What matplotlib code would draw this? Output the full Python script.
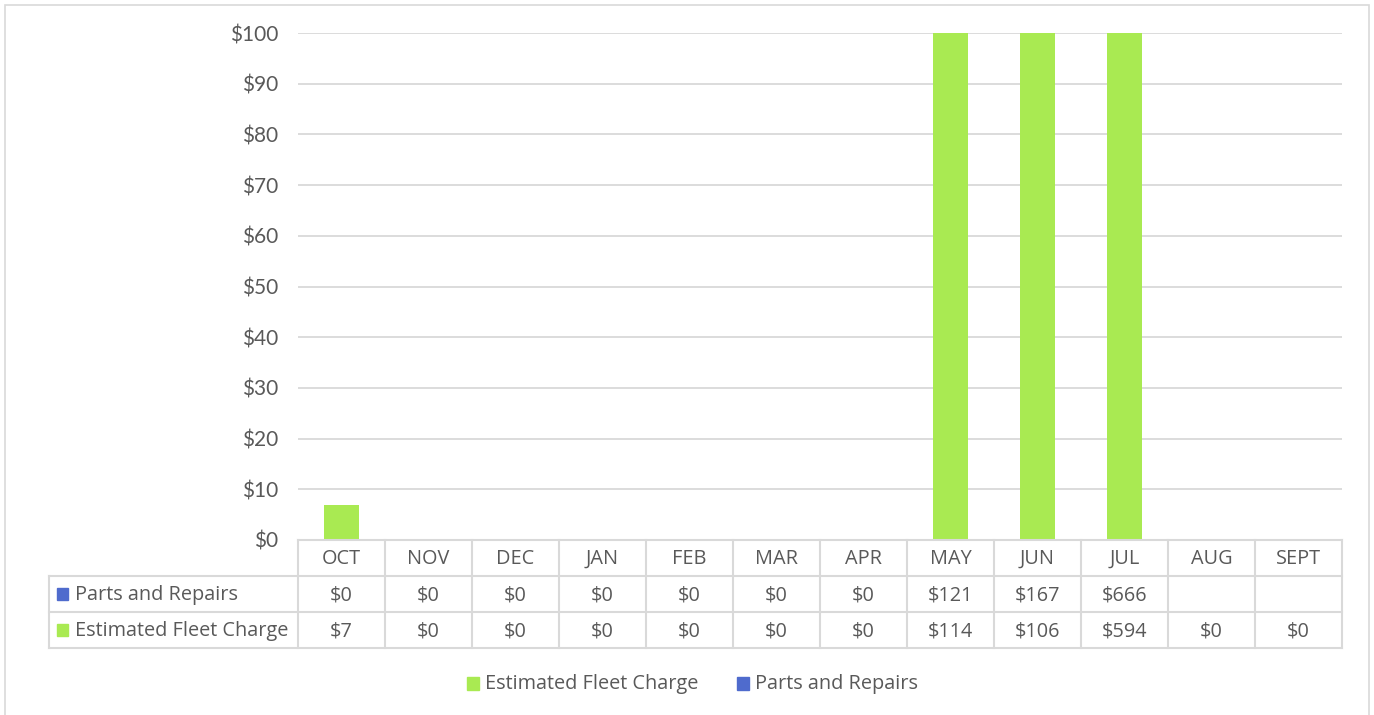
import numpy as np
import matplotlib
matplotlib.use("Agg")
import matplotlib.pyplot as plt
from matplotlib.patches import Rectangle
from matplotlib.lines import Line2D
import matplotlib.transforms as mtrans

months = ["OCT", "NOV", "DEC", "JAN", "FEB", "MAR", "APR", "MAY", "JUN", "JUL", "AUG", "SEPT"]
fleet_charge = [7, 0, 0, 0, 0, 0, 0, 114, 106, 594, 0, 0]
parts_repairs = [0, 0, 0, 0, 0, 0, 0, 121, 167, 666, np.nan, np.nan]
y_ticks = [0, 10, 20, 30, 40, 50, 60, 70, 80, 90, 100]

GREEN = "#A9EA52"
BLUE = "#4F6BCD"
GRID = "#D9D9D9"
TXT = "#595959"

W, H = 1374, 715
fig = plt.figure(figsize=(W / 100, H / 100), dpi=100)

def fx(px):
    return px / W

def fy(py):
    return 1 - py / H

# outer border
fig.add_artist(Rectangle((fx(5), fy(730)), fx(1369) - fx(5), fy(5) - fy(730),
                         transform=fig.transFigure, fill=False, edgecolor=GRID, lw=1.2))

ax = fig.add_axes([fx(298), fy(540), fx(1342) - fx(298), fy(33) - fy(540)])
x = np.arange(len(months))
bw = 0.40
ax.bar(x, fleet_charge, width=bw, color=GREEN, zorder=3, label="Estimated Fleet Charge")
ax.bar(x, np.nan_to_num(parts_repairs), bottom=fleet_charge, width=bw, color=BLUE, zorder=3,
       label="Parts and Repairs")
ax.set_xlim(-0.5, len(months) - 0.5)
ax.set_ylim(0, 100)
ax.set_yticks(y_ticks)
ax.set_yticklabels([f"${v}" for v in y_ticks], fontfamily="Lato", fontsize=15, color=TXT)
ax.tick_params(axis="y", length=0, pad=14)
ax.set_xticks([])
for s in ax.spines.values():
    s.set_visible(False)
ax.yaxis.grid(True, color=GRID, lw=1.3, zorder=0)
ax.set_axisbelow(True)

# data table
row_h = 36  # px
trans = mtrans.blended_transform_factory(ax.transData, fig.transFigure)
left_px = 49
x0_px, x1_px = 298, 1342
top_px = 540
tfont = dict(fontfamily="Open Sans", fontsize=14.3, color=TXT)

lw = 1.5
# horizontal lines
fig.add_artist(Line2D([fx(x0_px), fx(x1_px)], [fy(top_px), fy(top_px)], color=GRID, lw=lw,
                      transform=fig.transFigure))
for r in range(1, 4):
    yy = fy(top_px + r * row_h)
    fig.add_artist(Line2D([fx(left_px), fx(x1_px)], [yy, yy], color=GRID, lw=lw,
                          transform=fig.transFigure))
# vertical lines
for i in range(len(months) + 1):
    xi = i - 0.5
    fig.add_artist(Line2D([xi, xi], [fy(top_px), fy(top_px + 3 * row_h)], color=GRID, lw=lw,
                          transform=trans))
fig.add_artist(Line2D([fx(left_px), fx(left_px)], [fy(top_px + row_h), fy(top_px + 3 * row_h)],
                      color=GRID, lw=lw, transform=fig.transFigure))

def fmt(v):
    return "" if np.isnan(v) else f"${int(v)}"

for i, m in enumerate(months):
    fig.text(i, fy(top_px + 0.5 * row_h + 1), m, ha="center", va="center", transform=trans, **tfont)
    fig.text(i, fy(top_px + 1.5 * row_h + 1), fmt(parts_repairs[i]), ha="center", va="center",
             transform=trans, **tfont)
    fig.text(i, fy(top_px + 2.5 * row_h + 1), fmt(float(fleet_charge[i])), ha="center", va="center",
             transform=trans, **tfont)

rows = [("Parts and Repairs", BLUE), ("Estimated Fleet Charge", GREEN)]
sq = 12
for r, (name, col) in enumerate(rows):
    cy = top_px + (1.5 + r) * row_h
    fig.add_artist(Rectangle((fx(57), fy(cy + sq / 2)), fx(sq - 1), sq / H, color=col,
                             transform=fig.transFigure))
    fig.text(fx(75), fy(cy + 1), name, ha="left", va="center", **tfont)

# bottom legend
leg_y = 683
legend_items = [("Estimated Fleet Charge", GREEN, 467), ("Parts and Repairs", BLUE, 737)]
for name, col, px in legend_items:
    fig.add_artist(Rectangle((fx(px), fy(leg_y + 6.5)), fx(12), 13 / H, color=col,
                             transform=fig.transFigure))
    fig.text(fx(px + 18), fy(leg_y + 1), name, ha="left", va="center", **tfont)

fig.savefig("out.png", dpi=100)
